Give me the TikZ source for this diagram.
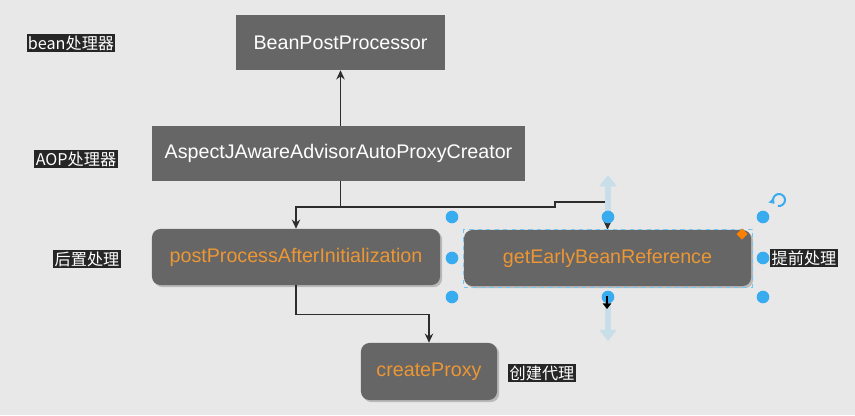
\documentclass[tikz,border=0pt]{standalone}
\usepackage{fontspec}
\setmainfont{Liberation Sans}
\newfontfamily\cjk{Noto Sans CJK SC}
\usepackage{xcolor}
\usetikzlibrary{arrows.meta, shadows, shapes.geometric}
\definecolor{canvas}{RGB}{232,232,232}
\definecolor{boxgrey}{RGB}{102,102,102}
\definecolor{orangetxt}{RGB}{236,150,52}
\definecolor{handle}{RGB}{56,172,238}
\definecolor{paleblue}{RGB}{200,222,232}
\definecolor{wire}{RGB}{45,45,45}

\begin{document}
\begin{tikzpicture}[
  x=0.025cm, y=-0.025cm,
  font=\fontsize{14pt}{16pt}\selectfont,
  sbox/.style={rectangle, fill=boxgrey, text=white, inner sep=0pt,
               minimum height=1.375cm},
  rbox/.style={rectangle, rounded corners=6pt, fill=boxgrey, text=orangetxt, inner sep=0pt,
               minimum height=1.4cm,
               drop shadow={shadow xshift=1.5pt, shadow yshift=-1.5pt, fill=black, opacity=0.2}},
  tag/.style={fill=black!85, text=white, inner sep=1pt,
              font=\cjk\fontsize{11.5pt}{13pt}\selectfont},
  arr/.style={-{Stealth[length=6.5pt, width=6pt]}, wire, line width=0.8pt},
  ln/.style={wire, line width=0.8pt},
  dot/.style={circle, fill=handle, inner sep=0pt, minimum size=9pt}
]
\useasboundingbox[fill=canvas] (0,0) rectangle (855,415);

% processor chain
\node[sbox, minimum width=5.225cm] (bpp) at (340.5,42.5) {BeanPostProcessor};
\node[sbox, minimum width=9.325cm] (aop) at (338.5,153.5) {AspectJAwareAdvisorAutoProxyCreator};
\draw[arr] (bpp.south |- aop.north) -- (bpp.south);

% hooks
\node[rbox, minimum width=7.2cm] (post) at (296,257) {postProcessAfterInitialization};
\node[rbox, minimum width=7.175cm] (early) at (607.5,258) {getEarlyBeanReference};
\node[rbox, minimum width=3.4cm, minimum height=1.425cm] (proxy) at (429,371.5) {createProxy};

\coordinate (fork) at (340.5,207);
\coordinate (kink) at (555,202);
\draw[ln] (bpp.south |- aop.south) -- (fork);
\draw[arr] (fork) -| (post.north);
\draw[arr] (fork) -- (kink |- fork) -- (kink) -| (early.north);
\draw[arr] (post.south) -- ++(0,29) -| (proxy.north);

% side labels
\node[tag] (lbean) at (71,43) {bean处理器};
\node[tag] (laop) at (76,159) {AOP处理器};
\node[tag] (lpost) at (87,259) {后置处理};
\node[tag] (learly) at (804,258) {提前处理};
\node[tag] (lproxy) at (542,373) {创建代理};

% selection of the early hook
\draw[handle!70, dashed, line width=0.6pt] (463,229) rectangle (752,287);
\draw[-{Triangle[length=8pt, width=12pt]}, paleblue, line width=4pt] (608,211) -- (608,175);
\draw[-{Triangle[length=8pt, width=12pt]}, paleblue, line width=4pt] (608,304) -- (608,341);
\foreach \hx in {452,608,763}
  \foreach \hy in {217,297}
    \node[dot] at (\hx,\hy) {};
\node[dot] at (452,258) {};
\node[dot] at (763,258) {};
\node[diamond, fill=orange, inner sep=0pt, minimum size=8pt] (grip) at (742,234) {};
\draw[handle, line width=1.4pt, -{Triangle[length=3.5pt, width=5pt]}] (779,200) ++(100:6) arc (100:-220:6);
\draw[black, line width=1.3pt, -{Triangle[length=4pt, width=6pt]}] (607,296) -- (607,309);

\end{tikzpicture}
\end{document}
